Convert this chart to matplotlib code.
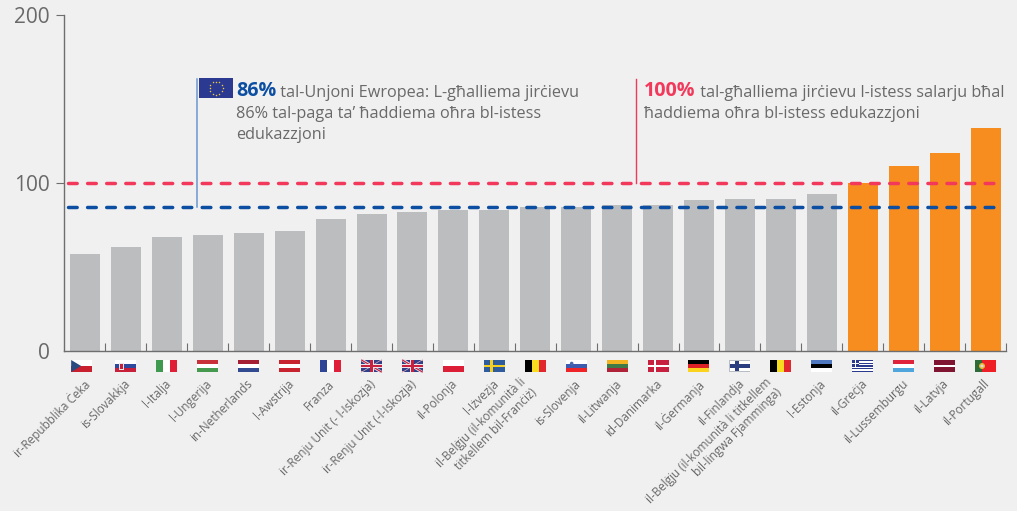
# Teachers' salaries relative to other workers, EU countries (Maltese labels)
import matplotlib
matplotlib.use("Agg")
import numpy as np
import matplotlib.pyplot as plt
from matplotlib.patches import Rectangle, Polygon, Circle
from matplotlib.transforms import Affine2D, ScaledTranslation

plt.rcParams['font.family'] = ['Open Sans', 'DejaVu Sans']

W, H = 1017, 511
BG = '#f0f0f0'
GREY = '#bcbdbf'
ORANGE = '#f78c1f'
RED = '#f2395b'
BLUE = '#0b4ea2'
TEXT = '#696969'
AXIS = '#6e6e6e'
WHITE = '#ffffff'

countries = ['ir-Repubblika Ċeka', 'is-Slovakkja', "l-Italja", "l-Ungerija", 'in-Netherlands',
             "l-Awstrija", 'Franza', 'ir-Renju Unit (- l-Iskozja)', 'ir-Renju Unit (-l-Iskozja)',
             'il-Polonja', "l-Iżvezja", 'il-Belġju (il-komunità li\ntitkellem bil-Franċiż)',
             'is-Slovenja', 'il-Litwanja', 'id-Danimarka', 'il-Ġermanja', 'il-Finlandja',
             'il-Belġju (il-komunità li titkellem\nbil-lingwa Fjamminga)', "l-Estonja",
             'il-Greċja', 'il-Lussemburgu', 'il-Latvja', 'il-Portugall']
values = [58, 62, 68, 69, 70, 71.5, 78.5, 81.5, 83, 84, 84, 86, 86, 87, 87, 90, 90.5,
          90.5, 93.5, 100, 110, 118, 133]
flags = ['cz', 'sk', 'it', 'hu', 'nl', 'at', 'fr', 'uk', 'uk', 'pl', 'se', 'be', 'si',
         'lt', 'dk', 'de', 'fi', 'be', 'ee', 'gr', 'lu', 'lv', 'pt']
eu_avg = 86
parity = 100
yticks = [0, 100, 200]

# plain striped flags: (direction, colours)
stripes = {
    'cz': ('h', [WHITE, '#c8202f']),
    'sk': ('h', [WHITE, '#2f4a9c', '#c8203a']),
    'it': ('v', ['#3f9a4f', WHITE, '#e01f36']),
    'hu': ('h', ['#c8303a', WHITE, '#459a50']),
    'nl': ('h', ['#a51f34', WHITE, '#324a90']),
    'at': ('h', ['#c8242f', WHITE, '#c8242f']),
    'fr': ('v', ['#2f4596', WHITE, '#e0203a']),
    'pl': ('h', [WHITE, '#dc1f36']),
    'be': ('v', ['#000000', '#f8dc20', '#e0282e']),
    'si': ('h', [WHITE, '#3d5cb0', '#ee2428']),
    'lt': ('h', ['#f2b420', '#3f7a48', '#b02238']),
    'de': ('h', ['#000000', '#dd1f26', '#fbd21e']),
    'ee': ('h', ['#4f78c0', '#000000', WHITE]),
    'lu': ('h', ['#e0243c', WHITE, '#4fa6dc']),
    'lv': ('h', ['#7f1530', '#7f1530', WHITE, '#7f1530', '#7f1530']),
    'se': ('h', ['#2f5c9c']),
    'dk': ('h', ['#c8203f']),
    'fi': ('h', [WHITE]),
    'uk': ('h', ['#2f3f88']),
    'gr': ('h', ['#2b3a8c', WHITE] * 4 + ['#2b3a8c']),
    'pt': ('v', ['#2f6b38', '#ee2026', '#ee2026']),
}


def draw_flag(ax, cx, code, top=360, w=21, h=12):
    tr = Affine2D().scale(1, -1).translate(cx - w / 2, H - top)

    def add(p):
        p.set_transform(tr)
        p.set_clip_on(False)
        p.set_linewidth(0)
        p.set_zorder(5)
        ax.add_patch(p)

    kind, cols = stripes[code]
    n = len(cols)
    for k, c in enumerate(cols):
        if kind == 'h':
            add(Rectangle((0, k * h / n), w, h / n, fc=c))
        else:
            add(Rectangle((k * w / n, 0), w / n, h, fc=c))
    if code == 'cz':
        add(Polygon([(0, 0), (10, 6), (0, 12)], fc='#2b4a80'))
    if code == 'sk':
        add(Rectangle((4, 2.5), 5, 7, fc='#e8e8e8'))
        add(Rectangle((5, 3.5), 3, 5, fc='#c8203a'))
    if code == 'si':
        add(Circle((6, 3.5), 1.8, fc='#4a66b0'))
    if code == 'se':
        add(Rectangle((6, 0), 3, h, fc='#f6cf24'))
        add(Rectangle((0, 4.8), w, 2.6, fc='#f6cf24'))
    if code == 'dk':
        add(Rectangle((6, 0), 2.8, h, fc=WHITE))
        add(Rectangle((0, 4.7), w, 2.6, fc=WHITE))
    if code == 'fi':
        add(Rectangle((5.6, 0), 3.6, h, fc='#2b3f80'))
        add(Rectangle((0, 4.4), w, 3.2, fc='#2b3f80'))
        for edge in [(0, 0, w, 0.7), (0, 11.3, w, 0.7), (0, 0, 0.7, h), (20.3, 0, 0.7, h)]:
            add(Rectangle(edge[:2], edge[2], edge[3], fc='#b8bcc4'))
    if code == 'uk':
        for y0, y1 in [(0, 12), (12, 0)]:
            add(Polygon([(0, y0 - 1), (2, y0 - 1), (21, y1 - 1), (21, y1 + 1), (19, y1 + 1), (0, y0 + 1)],
                        fc='#e8dfe4'))
            add(Polygon([(0, y0 - 0.4), (1, y0 - 0.4), (21, y1 - 0.4), (21, y1 + 0.4), (20, y1 + 0.4),
                         (0, y0 + 0.4)], fc='#c8203f'))
        add(Rectangle((8.5, 0), 4, h, fc='#ece6ea'))
        add(Rectangle((0, 4), w, 4, fc='#ece6ea'))
        add(Rectangle((9.4, 0), 2.2, h, fc='#c8203f'))
        add(Rectangle((0, 4.9), w, 2.2, fc='#c8203f'))
    if code == 'gr':
        add(Rectangle((0, 0), 7, 6.7, fc='#2b3a8c'))
        add(Rectangle((2.7, 0), 1.5, 6.7, fc=WHITE))
        add(Rectangle((0, 2.6), 7, 1.5, fc=WHITE))
    if code == 'pt':
        add(Circle((7, 6), 3, fc='#e8b830'))
        add(Circle((7, 6), 1.5, fc='#d8d8e8'))


fig = plt.figure(figsize=(W / 100, H / 100), dpi=100, facecolor=BG)
ax = fig.add_axes([64 / W, 1 - 351 / H, (1006 - 64) / W, (351 - 15) / H], facecolor=BG)

x = np.arange(len(values))
colors = [ORANGE if v >= parity else GREY for v in values]
ax.bar(x, values, width=0.733, color=colors, zorder=2)

ax.set_xlim(-0.512, len(values) - 0.5)
ax.set_ylim(0, 200)
for s in ['top', 'right']:
    ax.spines[s].set_visible(False)
for s in ['left', 'bottom']:
    ax.spines[s].set_color(AXIS)
    ax.spines[s].set_linewidth(1.0)

ax.set_yticks(yticks)
ax.tick_params(axis='y', length=5.8, width=0.8, color=AXIS, labelcolor=TEXT, labelsize=15, pad=4.5)
ax.yaxis.get_major_ticks()[0].tick1line.set_visible(False)

ax.set_xticks(x, countries, rotation=45, ha='right', rotation_mode='anchor', fontsize=8.5, color=TEXT)
ax.tick_params(axis='x', which='major', length=0, pad=19)
ax.tick_params(axis='x', which='minor', direction='in', length=5.8, width=0.8, color=AXIS)
ax.set_xticks(list(x[:-1] + 0.5) + [len(values) - 0.5], minor=True)

shift = ScaledTranslation(-16 / 100, 2 / 100, fig.dpi_scale_trans)
nudge = ScaledTranslation(-2.5 / 100, 0, fig.dpi_scale_trans)
for lab in ax.get_xticklabels():
    if '\n' in lab.get_text():
        lab.set_transform(lab.get_transform() + shift)
    else:
        lab.set_transform(lab.get_transform() + nudge)

for level, col in [(parity, RED), (eu_avg, BLUE)]:
    ax.plot([-0.41, 22.4], [level, level], color=col, lw=2.5, ls=(0, (2.5, 3.0)),
            dash_capstyle='round', zorder=4)

# leader lines and callouts
ax.plot([2.735, 2.735], [eu_avg, 162], color='#6b97cf', lw=1.1, zorder=3)
ax.plot([13.47, 13.47], [parity, 162], color=RED, lw=1.0, zorder=3)

FS = 11.7
FSB = 14.1
t1 = ax.text(3.69, 151.8, '86%', color=BLUE, fontsize=FSB, fontweight='bold', va='baseline')
ax.annotate(' tal-Unjoni Ewropea: L-għalliema jirċievu', xy=(1, 0), xycoords=t1, va='bottom',
            color=TEXT, fontsize=FS)
ax.text(3.69, 151.8 - 12.9, '86% tal-paga ta’ ħaddiema oħra bl-istess', color=TEXT, fontsize=FS, va='baseline')
ax.text(3.69, 151.8 - 25.8, 'edukazzjoni', color=TEXT, fontsize=FS, va='baseline')

t2 = ax.text(13.66, 151.8, '100%', color=RED, fontsize=FSB, fontweight='bold', va='baseline')
ax.annotate(' tal-għalliema jirċievu l-istess salarju bħal', xy=(1, 0), xycoords=t2, va='bottom',
            color=TEXT, fontsize=FS)
ax.text(13.66, 151.8 - 12.9, 'ħaddiema oħra bl-istess edukazzjoni', color=TEXT, fontsize=FS, va='baseline')

# flags under the axis
fig.canvas.draw()
for i, code in enumerate(flags):
    px = ax.transData.transform((i, 0))[0]
    if i == 0:
        px -= 3.3
    draw_flag(ax, px, code)

# EU flag at the top of the blue leader
tr = Affine2D().scale(1, -1).translate(199, H - 78)
ax.add_patch(Rectangle((0, 0), 34, 20, fc='#2b3990', lw=0, transform=tr, clip_on=False, zorder=5))
ang = np.deg2rad(np.arange(0, 360, 30))
ax.scatter(17 + 6.5 * np.cos(ang), 10 + 6.5 * np.sin(ang), s=1.2, c='#e8c840', linewidths=0,
           transform=tr, clip_on=False, zorder=6)

fig.savefig('out.png', dpi=100, facecolor=BG)
